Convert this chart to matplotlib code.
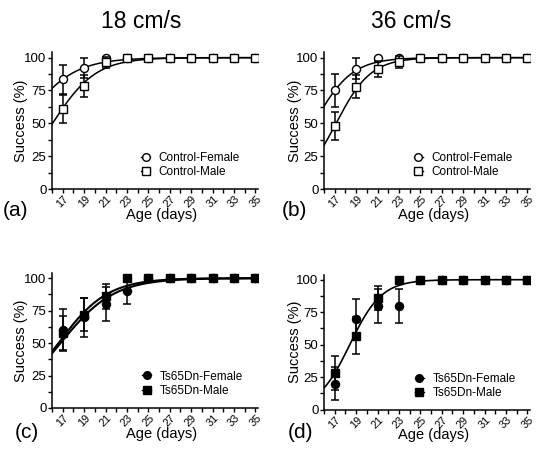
import numpy as np
import matplotlib
matplotlib.use("Agg")
import matplotlib.pyplot as plt
from matplotlib.lines import Line2D
from matplotlib.ticker import MultipleLocator

plt.rcParams['font.family'] = ['Liberation Sans', 'DejaVu Sans']

ages = [17, 19, 21, 23, 25, 27, 29, 31, 33, 35]
tick_ages = [17, 19, 21, 23, 25, 27, 29, 31, 33, 35]

# (a) 18 cm/s controls
a_female = [83.5, 92, 100, 100, 100, 100, 100, 100, 100, 100]
a_female_err = [11, 7.5, 0, 0, 0, 0, 0, 0, 0, 0]
a_male = [61, 78.5, 96.5, 100, 100, 100, 100, 100, 100, 100]
a_male_err = [10.5, 8.6, 4, 0, 0, 0, 0, 0, 0, 0]
# (b) 36 cm/s controls
b_female = [75, 91.5, 100, 100, 100, 100, 100, 100, 100, 100]
b_female_err = [12.8, 8, 0, 0, 0, 0, 0, 0, 0, 0]
b_male = [48, 78, 91.5, 96.5, 100, 100, 100, 100, 100, 100]
b_male_err = [10.8, 8.5, 6, 4.5, 0, 0, 0, 0, 0, 0]
# (c) 18 cm/s Ts65Dn
c_female = [60, 70, 80, 90, 100, 100, 100, 100, 100, 100]
c_female_err = [16, 15, 13, 10, 0, 0, 0, 0, 0, 0]
c_male = [58, 72, 86, 100, 100, 100, 100, 100, 100, 100]
c_male_err = [13, 13, 9.5, 0, 0, 0, 0, 0, 0, 0]
# (d) 36 cm/s Ts65Dn
d_female = [20, 70, 80, 80, 100, 100, 100, 100, 100, 100]
d_female_err = [13, 15, 13, 13, 0, 0, 0, 0, 0, 0]
d_male = [28, 57, 86, 100, 100, 100, 100, 100, 100, 100]
d_male_err = [13, 14, 9.5, 0, 0, 0, 0, 0, 0, 0]

# sigmoid fit parameters: (midpoint age, slope width)
a_female_fit = (13.27, 2.3)
a_male_fit = (16.05, 2.03)
b_female_fit = (15.06, 1.77)
b_male_fit = (17.13, 1.63)
c_female_fit = (16.8, 2.5)
c_male_fit = (16.6, 2.3)
d_fit = (18.41, 1.49)

fig = plt.figure(figsize=(5.5, 4.57), dpi=100)

W = 206 / 550
axa = fig.add_axes([52 / 550, 1 - 189 / 457, W, 136.6 / 457])
axb = fig.add_axes([324 / 550, 1 - 189 / 457, W, 136.6 / 457])
axc = fig.add_axes([52 / 550, 1 - 408 / 457, W, 135 / 457])
axd = fig.add_axes([324 / 550, 1 - 409.5 / 457, W, 135 / 457])


def sig(x, p):
    x0, s = p
    return 100.0 / (1.0 + np.exp(-(x - x0) / s))


def style(ax, ylab_x):
    ax.set_xlim(16, 35.25)
    ax.set_ylim(0, 104)
    for sp in ['top', 'right']:
        ax.spines[sp].set_visible(False)
    for sp in ['left', 'bottom']:
        ax.spines[sp].set_linewidth(1.1)
    ax.set_xticks(tick_ages)
    ax.xaxis.set_minor_locator(MultipleLocator(1))
    ax.set_yticks([0, 25, 50, 75, 100])
    ax.yaxis.set_minor_locator(MultipleLocator(12.5))
    ax.tick_params(axis='both', which='both', direction='out', width=1.0, length=3)
    ax.tick_params(axis='y', which='major', labelsize=9.5, pad=1)
    ax.tick_params(axis='x', which='major', labelsize=7.8, pad=0.5)
    for lab in ax.get_xticklabels():
        lab.set_rotation(45)
        lab.set_ha('center')
        lab.set_va('top')
    ax.set_ylabel('Success (%)', fontsize=10.5)
    ax.yaxis.set_label_coords(ylab_x, 0.5)
    ax.set_xlabel('Age (days)', fontsize=10.5, va='top')


def plot_series(ax, y, err, marker, filled, z):
    y = np.array(y, float)
    e = np.array(err, float)
    x = np.array(ages, float)
    m = e > 0
    ax.errorbar(x[m], y[m], yerr=e[m], fmt='none', ecolor='black',
                elinewidth=1.1, capsize=2.8, capthick=1.1, zorder=z)
    ax.plot(x, y, linestyle='none', marker=marker, markersize=5.8 if marker == 'o' else 5.5,
            markerfacecolor='black' if filled else 'white', markeredgecolor='black',
            markeredgewidth=1.0, zorder=z + 1)


xs = np.linspace(16, 35, 300)

# (a)
axa.plot(xs, sig(xs, a_female_fit), color='black', lw=1.1, zorder=2)
axa.plot(xs, sig(xs, a_male_fit), color='black', lw=1.1, zorder=2)
plot_series(axa, a_female, a_female_err, 'o', False, 3)
plot_series(axa, a_male, a_male_err, 's', False, 5)
# (b)
axb.plot(xs, sig(xs, b_female_fit), color='black', lw=1.1, zorder=2)
axb.plot(xs, sig(xs, b_male_fit), color='black', lw=1.1, zorder=2)
plot_series(axb, b_female, b_female_err, 'o', False, 3)
plot_series(axb, b_male, b_male_err, 's', False, 5)
# (c)
axc.plot(xs, sig(xs, c_female_fit), color='black', lw=1.5, zorder=2)
axc.plot(xs, sig(xs, c_male_fit), color='black', lw=1.5, zorder=2)
plot_series(axc, c_female, c_female_err, 'o', True, 3)
plot_series(axc, c_male, c_male_err, 's', True, 5)
# (d)
axd.plot(xs, sig(xs, d_fit), color='black', lw=1.2, zorder=2)
plot_series(axd, d_female, d_female_err, 'o', True, 3)
plot_series(axd, d_male, d_male_err, 's', True, 5)

style(axa, -0.117)
style(axb, -0.106)
style(axc, -0.117)
style(axd, -0.106)
for ax in (axa, axb, axc, axd):
    ax.xaxis.set_label_coords(0.53, -0.14)


def legend(ax, labels, filled, xy):
    fc = 'black' if filled else 'white'
    h = [Line2D([], [], color='black', lw=1.0, marker='o', markersize=5.5,
                markerfacecolor=fc, markeredgecolor='black'),
         Line2D([], [], color='black', lw=1.0, marker='s', markersize=5.2,
                markerfacecolor=fc, markeredgecolor='black')]
    ax.legend(h, labels, loc='center left', bbox_to_anchor=xy, frameon=False,
              fontsize=8.5, handlelength=0.8, handletextpad=0.7,
              labelspacing=0.2, borderpad=0, borderaxespad=0)


legend(axa, ['Control-Female', 'Control-Male'], False, (0.432, 0.176))
legend(axb, ['Control-Female', 'Control-Male'], False, (0.435, 0.176))
legend(axc, ['Ts65Dn-Female', 'Ts65Dn-Male'], True, (0.437, 0.18))
legend(axd, ['Ts65Dn-Female', 'Ts65Dn-Male'], True, (0.44, 0.175))

fig.text(141 / 550, 1 - 22 / 457, '18 cm/s', fontsize=16.5, ha='center', va='center')
fig.text(411 / 550, 1 - 22 / 457, '36 cm/s', fontsize=16.5, ha='center', va='center')

fig.text(3 / 550, 1 - 211 / 457, '(a)', fontsize=15, ha='left', va='center')
fig.text(282 / 550, 1 - 211 / 457, '(b)', fontsize=15, ha='left', va='center')
fig.text(15 / 550, 1 - 433 / 457, '(c)', fontsize=15, ha='left', va='center')
fig.text(288 / 550, 1 - 433 / 457, '(d)', fontsize=15, ha='left', va='center')

fig.savefig('out.png', dpi=100)
